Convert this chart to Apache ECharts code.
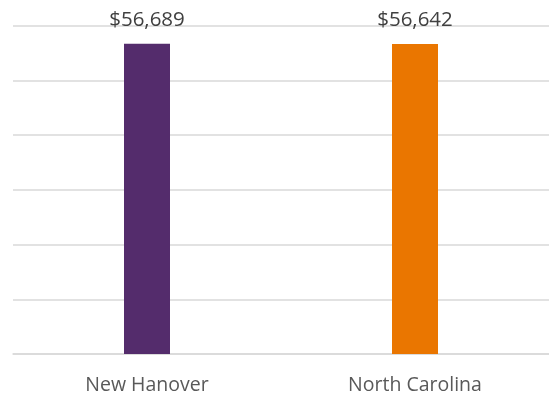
<!DOCTYPE html>
<html><head><meta charset="utf-8">
<script src="https://cdn.jsdelivr.net/npm/echarts@6/dist/echarts.min.js"></script>
<style>html,body{margin:0;padding:0;background:#fff}#c{width:549px;height:401px}</style>
</head><body><div id="c"></div>
<script>
const categories = ['New Hanover', 'North Carolina'];
const values = [56689, 56642];
const colors = ['#542C6C', '#EA7600'];
const chart = echarts.init(document.getElementById('c'));
chart.setOption({
  animation: false,
  grid: {left: 13, width: 541, top: 25.7, bottom: 47},
  xAxis: {
    type: 'category', data: categories,
    axisLine: {lineStyle: {color: '#d9d9d9', width: 1.5}},
    axisTick: {show: false},
    axisLabel: {color: '#595959', fontSize: 19.5, fontFamily: 'Open Sans', margin: 21}
  },
  yAxis: {
    type: 'value', min: 0, max: 60000, interval: 10000,
    axisLabel: {show: false}, axisLine: {show: false}, axisTick: {show: false},
    splitLine: {lineStyle: {color: '#d9d9d9', width: 1.5}}
  },
  series: [{
    type: 'bar', barWidth: 46,
    data: values.map((v, i) => ({value: v, itemStyle: {color: colors[i]}})),
    label: {show: true, position: 'top', distance: 13, color: '#404040', fontSize: 20.5, fontFamily: 'Open Sans',
      formatter: p => '$' + p.value.toLocaleString('en-US')}
  }]
});
</script></body></html>
